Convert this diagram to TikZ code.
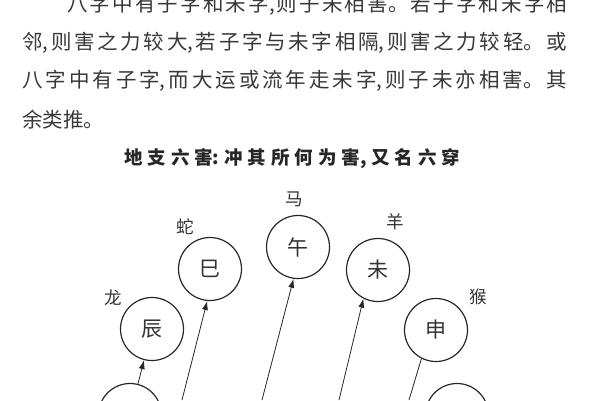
\documentclass[tikz,border=0pt]{standalone}
\usepackage{fontspec}
\newfontfamily\cjk{Noto Sans CJK SC}
\usetikzlibrary{arrows.meta,calc}
\XeTeXlinebreaklocale "zh"
\XeTeXlinebreakskip=0pt plus 1fil

\begin{document}
\begin{tikzpicture}[
    x=1pt, y=-1pt,
    zhi/.style={circle, draw=black!85, line width=1.2pt, minimum size=63pt, inner sep=0pt, font=\cjk\fontsize{21}{21}\selectfont, text=black!80},
    animal/.style={inner sep=0pt, font=\cjk\fontsize{17.5}{17.5}\selectfont, text=black!80},
    para/.style={anchor=west, inner sep=0pt, align=justify, font=\cjk\fontsize{20.5}{24}\selectfont, text=black!78, execute at begin node={\parfillskip=0pt\relax}},
    arrow/.style={-{Latex[length=9pt,width=6pt]}, line width=0.8pt, draw=black!85},
    link/.style={line width=0.8pt, draw=black!85}
]
    \useasboundingbox (0,0) rectangle (600,400);
    \clip (0,0) rectangle (600,400);

    % Text above
    \node[para, text width=500pt] (line1) at (67,4.5) {八字中有子字和未字,则子未相害。若子字和未字相};
    \node[para, text width=545pt] (line2) at (22,43) {邻,则害之力较大,若子字与未字相隔,则害之力较轻。或};
    \node[para, text width=545pt] (line3) at (22,81) {八字中有子字,而大运或流年走未字,则子未亦相害。其};
    \node[anchor=west, inner sep=0pt, font=\cjk\fontsize{20.5}{24}\selectfont, text=black!78] (line4) at (22,119.5) {余类推。};

    % Title
    \node[para, text width=336pt, font=\cjk\bfseries\fontsize{18.5}{18.5}\selectfont, text=black!85] (title) at (124,159) {地支六害:冲其所何为害,又名六穿};

    % Branches
    \node[zhi] (mao) at (130,415) {};
    \node[zhi] (chen) at (152,329) {辰};
    \node[zhi] (si) at (210,269) {巳};
    \node[zhi] (wu) at (298,247) {午};
    \node[zhi] (wei) at (378,270) {未};
    \node[zhi] (shen) at (436,330) {申};
    \node[zhi] (you) at (457,415) {};

    % Animals
    \node[animal] (dragon) at ($(chen)+(-39,-31)$) {龙};
    \node[animal] (snake) at ($(si)+(-25,-42)$) {蛇};
    \node[animal] (horse) at ($(wu)+(-4,-48)$) {马};
    \node[animal] (sheep) at ($(wei)+(17,-48)$) {羊};
    \node[animal] (monkey) at ($(shen)+(42,-33)$) {猴};

    % Lower ends
    \coordinate (yin) at (182,400);
    \coordinate (chou) at (262,400);
    \coordinate (zi) at (339,400);
    \coordinate (hai) at (409,400);

    % Harms
    \draw[arrow] (mao) -- (chen);
    \draw[arrow] (yin) -- (si.265);
    \draw[arrow] (chou) -- (wu.262);
    \draw[arrow] (zi) -- (wei.243);
    \draw[link] (shen.243) -- (hai);

\end{tikzpicture}
\end{document}
